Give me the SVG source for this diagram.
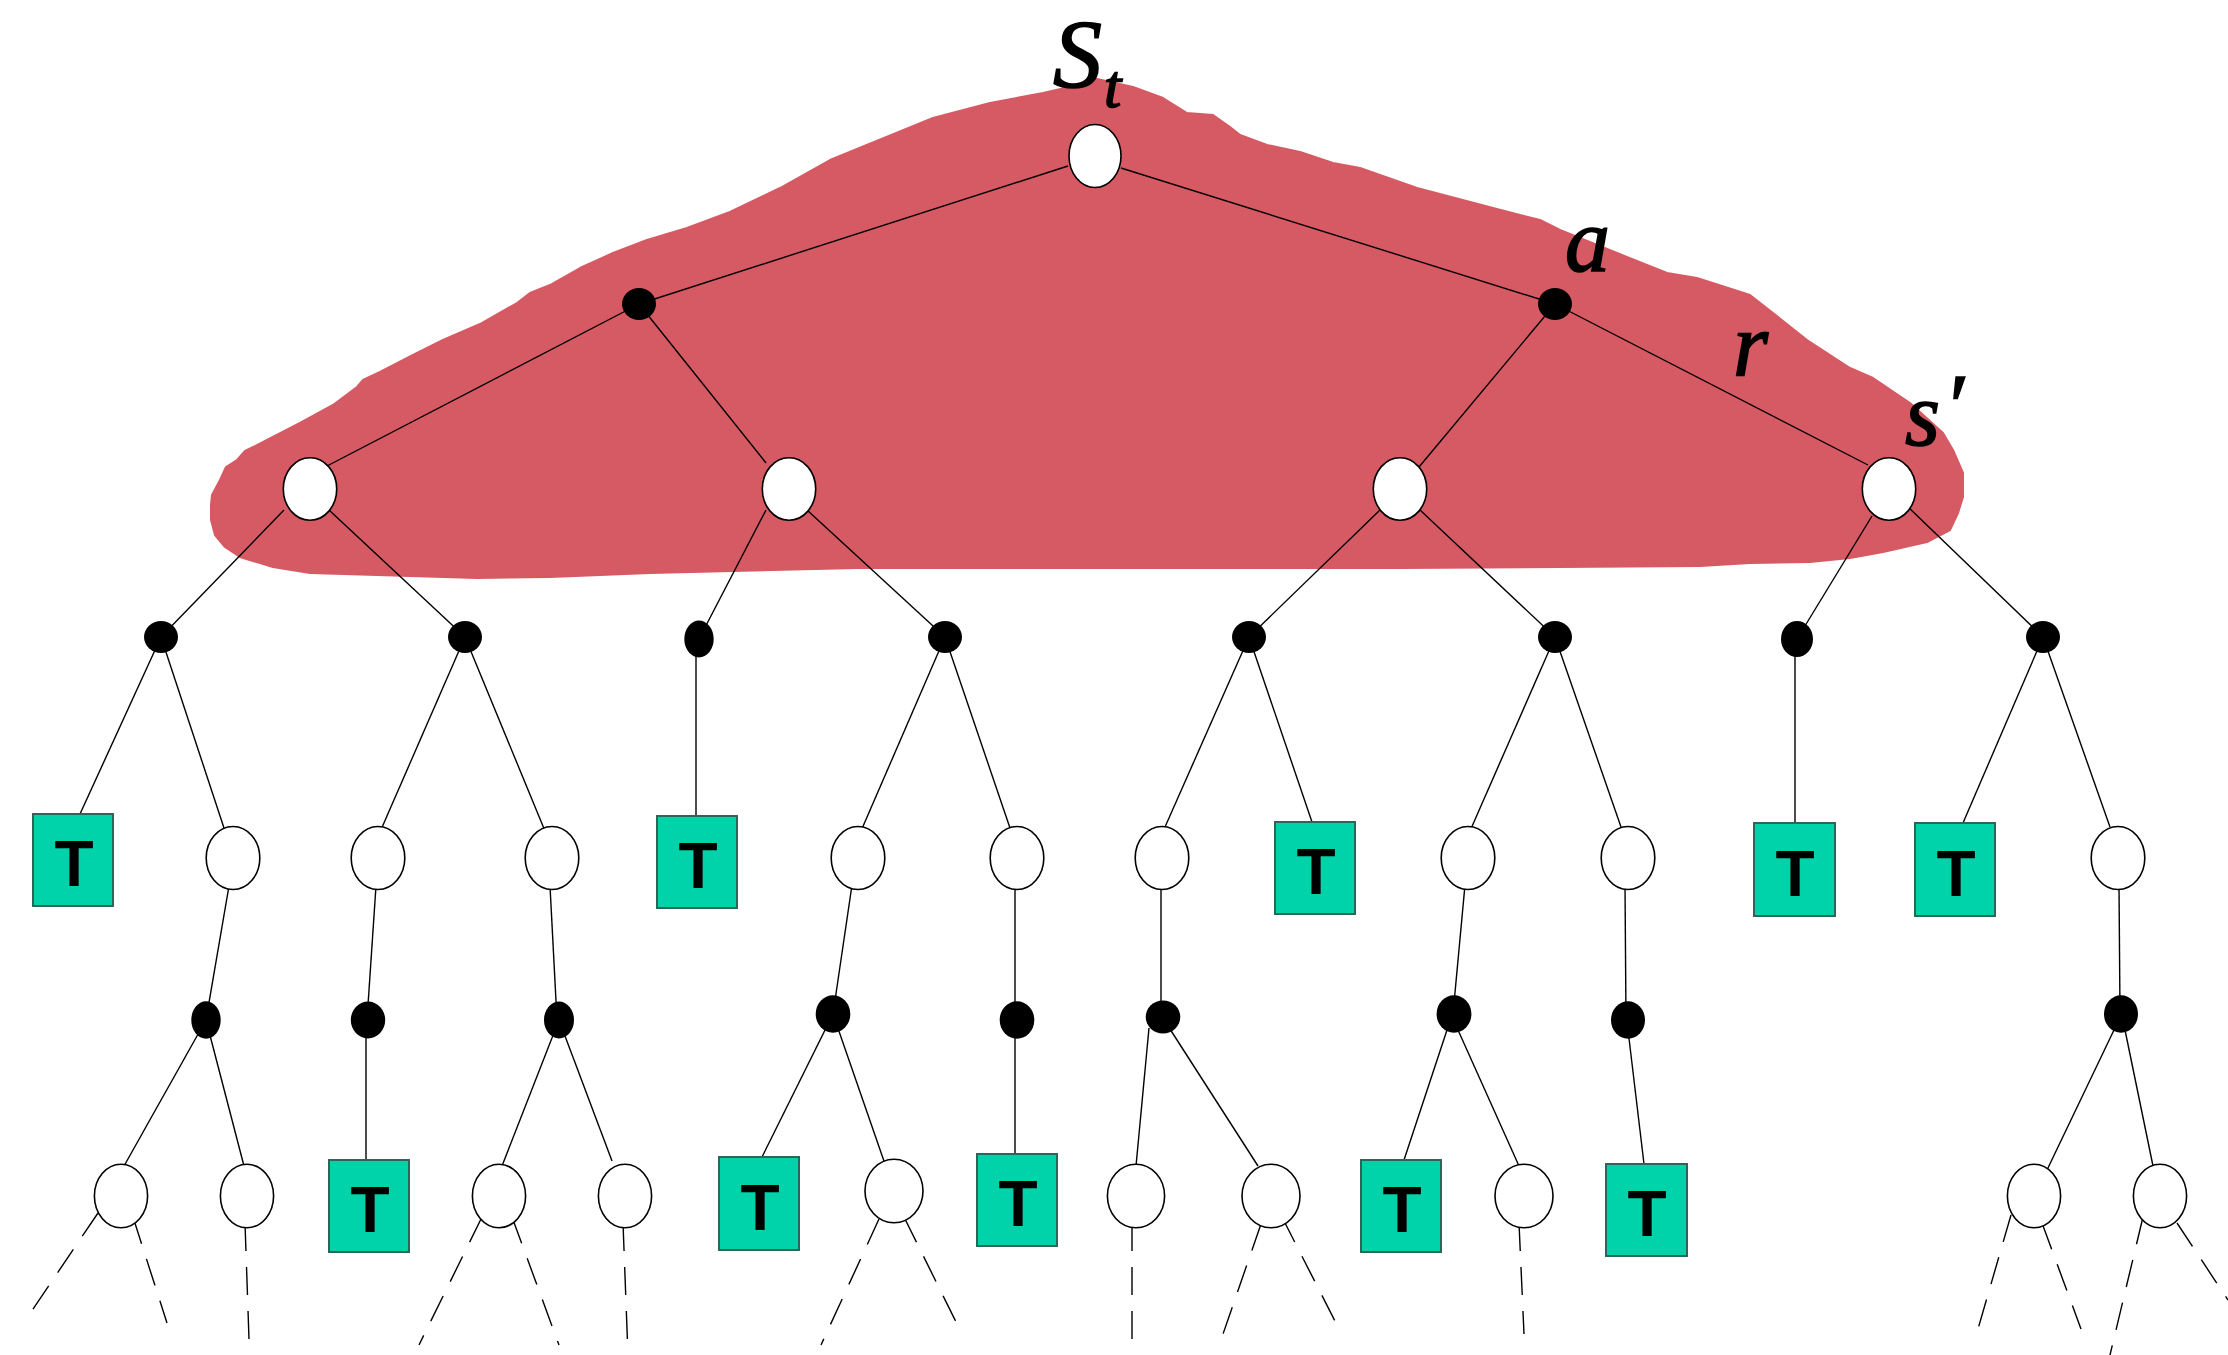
<svg xmlns="http://www.w3.org/2000/svg" width="2228" height="1355" viewBox="0 0 2228 1355">
  <style>
    .edge { stroke: #000; stroke-width: 1.4; fill: none; }
    .dash { stroke: #000; stroke-width: 1.4; fill: none; stroke-dasharray: 28 16; }
    .st { fill: #fff; stroke: #000; stroke-width: 1.6; }
    .act { fill: #000; }
    .term { fill: #00d3aa; stroke: #2b6659; stroke-width: 2; }
    .tl { font-family: "Liberation Sans", Arial, sans-serif; font-weight: bold; font-size: 64px; text-anchor: middle; fill: #000; }
    .math { font-family: "Liberation Serif", "Times New Roman", serif; font-style: italic; fill: #000; stroke: #000; stroke-width: 1.6; }
  </style>

  <rect width="2228" height="1355" fill="#fff"/>

  <!-- hand-drawn highlight around the top of the tree -->
  <polygon id="highlight" fill="#d65a63" stroke="#d65a63" stroke-width="2" stroke-linejoin="round"
    points="211,505 212,495 220,480 226,467 237,460 245,451 267,440 300,423 333,405 357,387 363,380 380,372 413,355 443,340 480,324 517,303 530,293 550,285 580,268 613,253 647,240 687,228 730,212 780,188 830,160 933,118 990,103 1043,93 1087,83 1097,79 1133,87 1163,98 1187,113 1213,115 1230,127 1240,135 1267,145 1300,152 1333,163 1360,168 1417,188 1493,208 1540,220 1560,230 1617,253 1667,273 1697,278 1750,295 1773,313 1807,340 1850,368 1873,378 1910,403 1943,433 1953,450 1963,473 1963,497 1958,513 1950,530 1927,542 1883,552 1850,558 1810,562 1750,563 1700,566 1400,568 857,568 650,573 550,577 477,578 310,573 273,567 240,557 225,547 215,535 211,520"/>

  <!-- connectors -->
  <g id="connectors">
    <!-- root to first actions -->
    <line class="edge" x1="1068" y1="166" x2="639" y2="304"/>
    <line class="edge" x1="1121" y1="168" x2="1555" y2="304"/>
    <!-- actions to second-level states -->
    <line class="edge" x1="639" y1="304" x2="327" y2="466"/>
    <line class="edge" x1="639" y1="304" x2="766" y2="463"/>
    <line class="edge" x1="1555" y1="304" x2="1419" y2="467"/>
    <line class="edge" x1="1555" y1="304" x2="1868" y2="465"/>
    <!-- second-level states to actions -->
    <line class="edge" x1="284" y1="510" x2="161" y2="637"/>
    <line class="edge" x1="329" y1="510" x2="465" y2="637"/>
    <line class="edge" x1="766" y1="510" x2="699" y2="639"/>
    <line class="edge" x1="807" y1="510" x2="945" y2="637"/>
    <line class="edge" x1="1380" y1="510" x2="1249" y2="637"/>
    <line class="edge" x1="1420" y1="510" x2="1555" y2="637"/>
    <line class="edge" x1="1872" y1="516" x2="1797" y2="639"/>
    <line class="edge" x1="1906" y1="505" x2="2043" y2="637"/>
    <!-- actions to third-level states / terminals -->
    <line class="edge" x1="161" y1="637" x2="80" y2="814"/>
    <line class="edge" x1="161" y1="637" x2="224" y2="828"/>
    <line class="edge" x1="465" y1="637" x2="380" y2="832"/>
    <line class="edge" x1="465" y1="637" x2="545" y2="831"/>
    <line class="edge" x1="696" y1="639" x2="696" y2="816"/>
    <line class="edge" x1="945" y1="637" x2="861" y2="831"/>
    <line class="edge" x1="945" y1="637" x2="1010" y2="828"/>
    <line class="edge" x1="1249" y1="637" x2="1165" y2="827"/>
    <line class="edge" x1="1249" y1="637" x2="1312" y2="822"/>
    <line class="edge" x1="1555" y1="637" x2="1470" y2="831"/>
    <line class="edge" x1="1555" y1="637" x2="1621" y2="827"/>
    <line class="edge" x1="1795" y1="639" x2="1795" y2="823"/>
    <line class="edge" x1="2043" y1="637" x2="1963" y2="823"/>
    <line class="edge" x1="2043" y1="637" x2="2110" y2="827"/>
    <!-- third-level states to actions -->
    <line class="edge" x1="229" y1="886" x2="206" y2="1020"/>
    <line class="edge" x1="376" y1="886" x2="367" y2="1020"/>
    <line class="edge" x1="550" y1="886" x2="557" y2="1020"/>
    <line class="edge" x1="852" y1="885" x2="833" y2="1014"/>
    <line class="edge" x1="1015" y1="889" x2="1015" y2="1020"/>
    <line class="edge" x1="1161" y1="885" x2="1161" y2="1017"/>
    <line class="edge" x1="1465" y1="885" x2="1453" y2="1014"/>
    <line class="edge" x1="1625" y1="885" x2="1626" y2="1020"/>
    <line class="edge" x1="2119" y1="885" x2="2120" y2="1014"/>
    <!-- actions to fourth-level states / terminals -->
    <line class="edge" x1="206" y1="1020" x2="124" y2="1166"/>
    <line class="edge" x1="206" y1="1020" x2="244" y2="1166"/>
    <line class="edge" x1="366" y1="1020" x2="366" y2="1160"/>
    <line class="edge" x1="559" y1="1020" x2="502" y2="1166"/>
    <line class="edge" x1="559" y1="1020" x2="612" y2="1161"/>
    <line class="edge" x1="833" y1="1014" x2="762" y2="1157"/>
    <line class="edge" x1="833" y1="1014" x2="885" y2="1164"/>
    <line class="edge" x1="1015" y1="1020" x2="1015" y2="1154"/>
    <line class="edge" x1="1149" y1="1028" x2="1136" y2="1166"/>
    <line class="edge" x1="1168" y1="1026" x2="1258" y2="1166"/>
    <line class="edge" x1="1447" y1="1030" x2="1404" y2="1160"/>
    <line class="edge" x1="1458" y1="1030" x2="1519" y2="1166"/>
    <line class="edge" x1="1628" y1="1030" x2="1644" y2="1164"/>
    <line class="edge" x1="2114" y1="1030" x2="2047" y2="1170"/>
    <line class="edge" x1="2125" y1="1030" x2="2153" y2="1166"/>
    <!-- unexpanded continuations -->
    <line class="dash" x1="98" y1="1213" x2="31" y2="1312"/>
    <line class="dash" x1="133" y1="1217" x2="167" y2="1323"/>
    <line class="dash" x1="245" y1="1223" x2="249" y2="1339"/>
    <line class="dash" x1="482" y1="1217" x2="419" y2="1345"/>
    <line class="dash" x1="512" y1="1217" x2="559" y2="1345"/>
    <line class="dash" x1="623" y1="1223" x2="628" y2="1355"/>
    <line class="dash" x1="879" y1="1219" x2="821" y2="1345"/>
    <line class="dash" x1="904" y1="1217" x2="962" y2="1334"/>
    <line class="dash" x1="1132" y1="1223" x2="1132" y2="1355"/>
    <line class="dash" x1="1261" y1="1224" x2="1223" y2="1334"/>
    <line class="dash" x1="1282" y1="1217" x2="1339" y2="1329"/>
    <line class="dash" x1="1519" y1="1223" x2="1524" y2="1334"/>
    <line class="dash" x1="2011" y1="1215" x2="1978" y2="1329"/>
    <line class="dash" x1="2042" y1="1223" x2="2081" y2="1329"/>
    <line class="dash" x1="2143" y1="1217" x2="2110" y2="1355"/>
    <line class="dash" x1="2177" y1="1223" x2="2228" y2="1300"/>
  </g>

  <!-- root state -->
  <g id="root"><ellipse class="st" cx="1095" cy="156" rx="26" ry="31.5"/></g>

  <!-- depth 1 actions -->
  <g id="a1"><ellipse class="act" cx="639" cy="304" rx="17" ry="16"/></g>
  <g id="a2"><ellipse class="act" cx="1555" cy="304" rx="17" ry="16"/></g>

  <!-- depth 2 states -->
  <g id="s1"><ellipse class="st" cx="310" cy="489" rx="26.7" ry="31.3"/></g>
  <g id="s2"><ellipse class="st" cx="789" cy="489" rx="26.7" ry="31.3"/></g>
  <g id="s3"><ellipse class="st" cx="1400" cy="489" rx="26.7" ry="31.3"/></g>
  <g id="s4"><ellipse class="st" cx="1889" cy="489" rx="26.7" ry="31.3"/></g>

  <!-- depth 3 actions -->
  <g id="a3"><ellipse class="act" cx="161" cy="637" rx="17" ry="16"/></g>
  <g id="a4"><ellipse class="act" cx="465" cy="637" rx="17" ry="16"/></g>
  <g id="a5"><ellipse class="act" cx="699" cy="639" rx="14.7" ry="18.5"/></g>
  <g id="a6"><ellipse class="act" cx="945" cy="637" rx="17" ry="16"/></g>
  <g id="a7"><ellipse class="act" cx="1249" cy="637" rx="17" ry="16"/></g>
  <g id="a8"><ellipse class="act" cx="1555" cy="637" rx="17" ry="16"/></g>
  <g id="a9"><ellipse class="act" cx="1797" cy="639" rx="16" ry="18"/></g>
  <g id="a10"><ellipse class="act" cx="2043" cy="637" rx="17" ry="16"/></g>

  <!-- depth 4 states and terminals -->
  <g id="t1"><rect class="term" x="33" y="814" width="80" height="92"/><text class="tl" x="74" y="886">T</text></g>
  <g id="s5"><ellipse class="st" cx="233" cy="858" rx="26.8" ry="31.5"/></g>
  <g id="s6"><ellipse class="st" cx="378" cy="858" rx="26.8" ry="31.5"/></g>
  <g id="s7"><ellipse class="st" cx="552" cy="858" rx="26.8" ry="31.5"/></g>
  <g id="t2"><rect class="term" x="657" y="816" width="80" height="92"/><text class="tl" x="698" y="888">T</text></g>
  <g id="s8"><ellipse class="st" cx="858" cy="858" rx="26.8" ry="31.5"/></g>
  <g id="s9"><ellipse class="st" cx="1017" cy="858" rx="26.8" ry="31.5"/></g>
  <g id="s10"><ellipse class="st" cx="1162" cy="858" rx="26.8" ry="31.5"/></g>
  <g id="t3"><rect class="term" x="1275" y="822" width="80" height="92"/><text class="tl" x="1316" y="894">T</text></g>
  <g id="s11"><ellipse class="st" cx="1468" cy="858" rx="26.8" ry="31.5"/></g>
  <g id="s12"><ellipse class="st" cx="1628" cy="858" rx="26.8" ry="31.5"/></g>
  <g id="t4"><rect class="term" x="1754" y="823" width="81" height="93"/><text class="tl" x="1795" y="896">T</text></g>
  <g id="t5"><rect class="term" x="1915" y="823" width="80" height="93"/><text class="tl" x="1956" y="896">T</text></g>
  <g id="s13"><ellipse class="st" cx="2118" cy="858" rx="26.8" ry="31.5"/></g>

  <!-- depth 5 actions -->
  <g id="a11"><ellipse class="act" cx="206" cy="1020" rx="14.7" ry="18.7"/></g>
  <g id="a12"><ellipse class="act" cx="368" cy="1020" rx="17.2" ry="18.5"/></g>
  <g id="a13"><ellipse class="act" cx="559" cy="1020" rx="15" ry="18.5"/></g>
  <g id="a14"><ellipse class="act" cx="833" cy="1014" rx="17.3" ry="18.7"/></g>
  <g id="a15"><ellipse class="act" cx="1017" cy="1020" rx="17.3" ry="18.7"/></g>
  <g id="a16"><ellipse class="act" cx="1163" cy="1017" rx="17.3" ry="16.5"/></g>
  <g id="a17"><ellipse class="act" cx="1454" cy="1014" rx="17.4" ry="18.7"/></g>
  <g id="a18"><ellipse class="act" cx="1628" cy="1020" rx="17" ry="18.7"/></g>
  <g id="a19"><ellipse class="act" cx="2121" cy="1014" rx="17" ry="18.7"/></g>

  <!-- depth 6 states and terminals -->
  <g id="s14"><ellipse class="st" cx="121" cy="1196" rx="26.6" ry="31.7"/></g>
  <g id="s15"><ellipse class="st" cx="247" cy="1196" rx="26.6" ry="31.7"/></g>
  <g id="t6"><rect class="term" x="329" y="1160" width="80" height="92"/><text class="tl" x="370" y="1232">T</text></g>
  <g id="s16"><ellipse class="st" cx="499" cy="1196" rx="26.6" ry="31.7"/></g>
  <g id="s17"><ellipse class="st" cx="625" cy="1196" rx="26.6" ry="31.7"/></g>
  <g id="t7"><rect class="term" x="719" y="1157" width="80" height="93"/><text class="tl" x="760" y="1230">T</text></g>
  <g id="s18"><ellipse class="st" cx="894" cy="1191" rx="29" ry="31.7"/></g>
  <g id="t8"><rect class="term" x="977" y="1154" width="80" height="92"/><text class="tl" x="1018" y="1226">T</text></g>
  <g id="s19"><ellipse class="st" cx="1136" cy="1196" rx="28.6" ry="31.7"/></g>
  <g id="s20"><ellipse class="st" cx="1271" cy="1196" rx="29" ry="31.7"/></g>
  <g id="t9"><rect class="term" x="1361" y="1160" width="80" height="92"/><text class="tl" x="1402" y="1232">T</text></g>
  <g id="s21"><ellipse class="st" cx="1524" cy="1196" rx="29" ry="31.7"/></g>
  <g id="t10"><rect class="term" x="1606" y="1164" width="81" height="92"/><text class="tl" x="1647" y="1236">T</text></g>
  <g id="s22"><ellipse class="st" cx="2034" cy="1196" rx="26.6" ry="31.7"/></g>
  <g id="s23"><ellipse class="st" cx="2160" cy="1196" rx="26.6" ry="31.7"/></g>

  <!-- math labels -->
  <g id="labels">
    <text class="math" x="1053" y="87" font-size="98" stroke-width="2.4">S</text>
    <text class="math" x="1104" y="107" font-size="62">t</text>
    <text class="math" x="1565" y="271" font-size="90">a</text>
    <text class="math" x="1733" y="375" font-size="90">r</text>
    <text class="math" x="1905" y="445" font-size="90">s</text>
    <text class="math" x="1944" y="437" font-size="90">′</text>
  </g>
</svg>
